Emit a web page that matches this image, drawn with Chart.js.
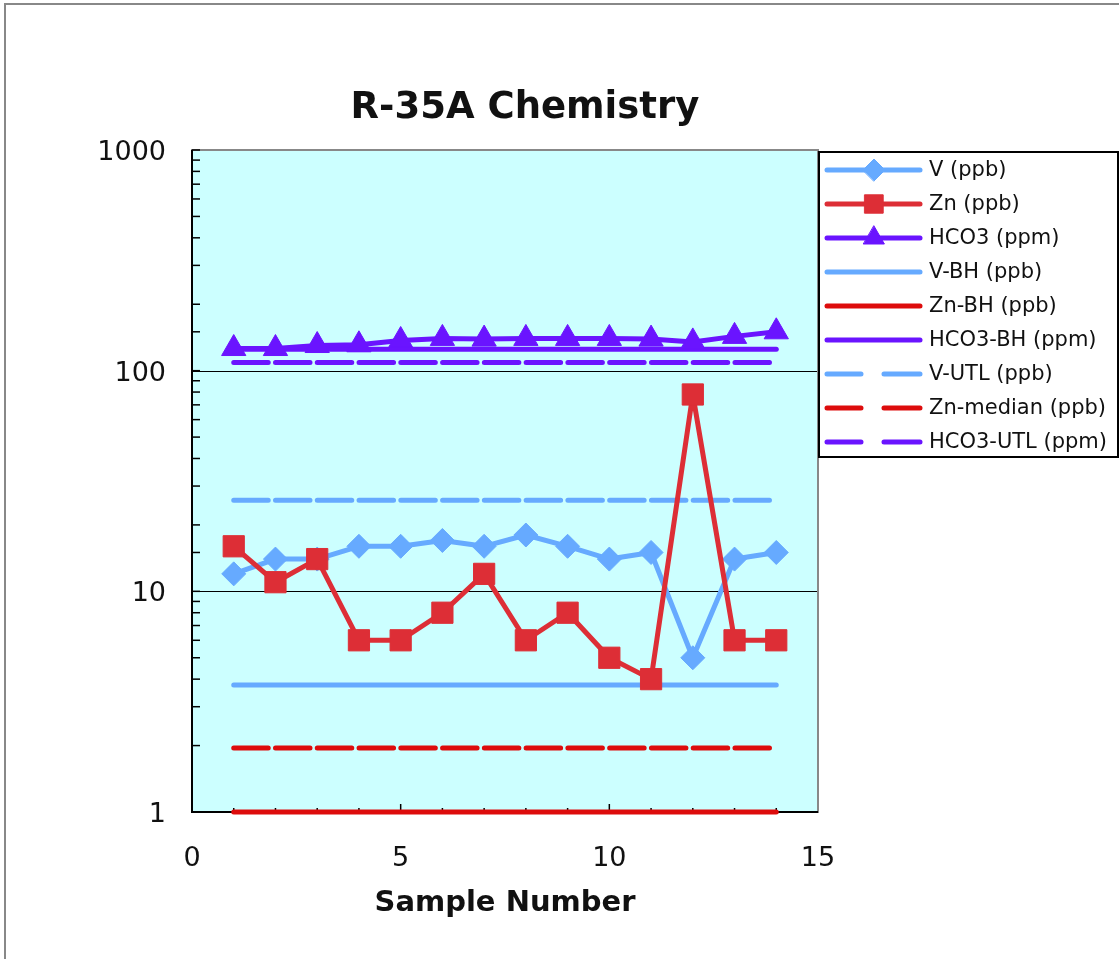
<!DOCTYPE html>
<html lang="en">
<head>
    <meta charset="UTF-8">
    <title>R-35A Chemistry</title>
    <script src="https://cdn.jsdelivr.net/npm/chart.js"></script>
    <style>
        html, body { margin: 0; padding: 0; background: #fff; }
        canvas { display: block; }
    </style>
</head>
<body>
    <canvas id="chemChart" width="1119" height="959"></canvas>
    <script>
        // values
        var samples = [1, 2, 3, 4, 5, 6, 7, 8, 9, 10, 11, 12, 13, 14];
        var vPpb = [12, 14, 14, 16, 16, 17, 16, 18, 16, 14, 15, 5, 14, 15];
        var znPpb = [16, 11, 14, 6, 6, 8, 12, 6, 8, 5, 4, 78, 6, 6];
        var hco3Ppm = [126, 126, 130, 131, 137, 140, 139, 140, 140, 140, 139, 135, 143, 150];

        // background / limit lines (constant for all samples)
        var vBH = 3.76;
        var znBH = 1;
        var hco3BH = 125;
        var vUTL = 25.9;
        var znMedian = 1.95;
        var hco3UTL = 109;

        var yTickLabels = [1, 10, 100, 1000];
        var xTickLabels = [0, 5, 10, 15];

        var blue = '#66aaff';
        var red = '#dd2e36';
        var darkRed = '#dd0c0c';
        var purple = '#6a14ff';
        var fontFamily = '"DejaVu Sans", Verdana, sans-serif';

        Chart.defaults.font.family = fontFamily;
        Chart.defaults.color = '#111';

        function pts(values) {
            return samples.map(function (x, i) { return { x: x, y: values[i] }; });
        }

        function flat(value) {
            return samples.map(function (x) { return { x: x, y: value }; });
        }

        function series(label, values, color, style, radius, order) {
            return {
                label: label, data: pts(values), order: order,
                borderColor: color, backgroundColor: color, borderWidth: 5,
                borderJoinStyle: 'round', borderCapStyle: 'round', borderDash: [],
                pointStyle: style, pointRadius: radius, pointBorderWidth: 1,
                pointBackgroundColor: color, pointBorderColor: color,
                tension: 0, fill: false, clip: false
            };
        }

        function refLine(label, value, color, dashed, order) {
            return {
                label: label, data: flat(value), order: order,
                borderColor: color, borderWidth: 5, borderCapStyle: 'round',
                borderDash: dashed ? [34.5, 7.27] : [], pointRadius: 0,
                tension: 0, fill: false, clip: false
            };
        }

        var datasets = [
            series('V (ppb)', vPpb, blue, 'rectRot', 12, 1),
            series('Zn (ppb)', znPpb, red, 'rect', 15, 0),
            series('HCO3 (ppm)', hco3Ppm, purple, 'triangle', 14, 2),
            refLine('V-BH (ppb)', vBH, blue, false, 3),
            refLine('Zn-BH (ppb)', znBH, darkRed, false, 3),
            refLine('HCO3-BH (ppm)', hco3BH, purple, false, 3),
            refLine('V-UTL (ppb)', vUTL, blue, true, 3),
            refLine('Zn-median (ppb)', znMedian, darkRed, true, 3),
            refLine('HCO3-UTL (ppm)', hco3UTL, purple, true, 3)
        ];

        var legendMarks = [
            { style: 'rectRot', radius: 11 },
            { style: 'rect', radius: 13 },
            { style: 'triangle', radius: 12 },
            null, null, null, null, null, null
        ];

        // plot background, frame, grid and tick marks
        var framePlugin = {
            id: 'framePlugin',
            beforeDatasetsDraw: function (chart) {
                var ctx = chart.ctx, a = chart.chartArea;
                var xs = chart.scales.x, ys = chart.scales.y;
                ctx.save();
                ctx.fillStyle = '#ccffff';
                ctx.fillRect(a.left, a.top, a.right - a.left, a.bottom - a.top);

                ctx.strokeStyle = '#000';
                ctx.lineWidth = 1;
                [10, 100].forEach(function (v) {
                    var y = Math.round(ys.getPixelForValue(v)) + 0.5;
                    ctx.beginPath(); ctx.moveTo(a.left, y); ctx.lineTo(a.right, y); ctx.stroke();
                });

                ctx.strokeStyle = '#888';
                ctx.lineWidth = 2;
                ctx.strokeRect(a.left, a.top, a.right - a.left, a.bottom - a.top);

                ctx.strokeStyle = '#000';
                ctx.beginPath();
                ctx.moveTo(a.left, a.top); ctx.lineTo(a.left, a.bottom); ctx.lineTo(a.right, a.bottom);
                ctx.stroke();

                ctx.lineWidth = 1.5;
                ys.ticks.forEach(function (t) {
                    var y = ys.getPixelForValue(t.value);
                    ctx.beginPath(); ctx.moveTo(a.left, y); ctx.lineTo(a.left + 8, y); ctx.stroke();
                });
                for (var i = 1; i < 15; i++) {
                    var x = xs.getPixelForValue(i);
                    var len = i % 5 === 0 ? 8 : 4;
                    ctx.beginPath(); ctx.moveTo(x, a.bottom); ctx.lineTo(x, a.bottom - len); ctx.stroke();
                }
                ctx.restore();
            },
            beforeDraw: function (chart) {
                var ctx = chart.ctx;
                ctx.save();
                ctx.fillStyle = '#fff';
                ctx.fillRect(0, 0, chart.width, chart.height);
                ctx.strokeStyle = '#888';
                ctx.lineWidth = 2;
                ctx.strokeRect(5, 4, chart.width + 20, chart.height + 20);
                ctx.restore();
            },
            afterDraw: function (chart) {
                var ctx = chart.ctx;
                ctx.save();
                ctx.fillStyle = '#111';
                ctx.font = 'bold 37px ' + fontFamily;
                ctx.textAlign = 'center';
                ctx.textBaseline = 'middle';
                ctx.fillText('R-35A Chemistry', 525, 108);

                // legend box
                ctx.fillStyle = '#fff';
                ctx.fillRect(819, 152, 299, 305);
                ctx.strokeStyle = '#000';
                ctx.lineWidth = 2;
                ctx.strokeRect(819, 152, 299, 305);

                ctx.font = '21px ' + fontFamily;
                ctx.textAlign = 'left';
                datasets.forEach(function (ds, i) {
                    var y = 170 + i * 34;
                    ctx.strokeStyle = ds.borderColor;
                    ctx.lineWidth = 5;
                    ctx.lineCap = 'round';
                    ctx.setLineDash([]);
                    ctx.beginPath();
                    if (ds.borderDash.length) {
                        ctx.moveTo(827, y); ctx.lineTo(861, y);
                        ctx.moveTo(884, y); ctx.lineTo(920, y);
                    } else {
                        ctx.moveTo(827, y); ctx.lineTo(920, y);
                    }
                    ctx.stroke();
                    var m = legendMarks[i];
                    if (m) {
                        ctx.fillStyle = ds.borderColor;
                        ctx.lineWidth = 1;
                        Chart.helpers.drawPoint(ctx, { pointStyle: m.style, radius: m.radius, rotation: 0, borderWidth: 1 }, 874, y);
                    }
                    ctx.fillStyle = '#111';
                    ctx.fillText(ds.label, 929, y + 1);
                });
                ctx.restore();
            }
        };

        var ctx = document.getElementById('chemChart').getContext('2d');
        new Chart(ctx, {
            type: 'line',
            data: { datasets: datasets },
            plugins: [framePlugin],
            options: {
                responsive: false,
                animation: false,
                layout: { padding: { left: 0, right: 301, top: 150, bottom: 0 } },
                plugins: {
                    legend: { display: false },
                    title: { display: false },
                    tooltip: { enabled: false }
                },
                scales: {
                    x: {
                        type: 'linear', min: 0, max: 15,
                        grid: { display: false, drawTicks: false },
                        border: { display: false },
                        afterBuildTicks: function (scale) {
                            scale.ticks = xTickLabels.map(function (v) { return { value: v }; });
                        },
                        ticks: { font: { size: 27 }, padding: 31, maxRotation: 0, autoSkip: false },
                        title: {
                            display: true, text: 'Sample Number',
                            font: { size: 29, weight: 'bold' },
                            padding: { top: 0, bottom: 38 }
                        },
                        afterFit: function (scale) { scale.height = 147; }
                    },
                    y: {
                        type: 'logarithmic', min: 1, max: 1000,
                        grid: { display: false, drawTicks: false },
                        border: { display: false },
                        ticks: {
                            font: { size: 27 }, padding: 26, autoSkip: false, labelOffset: 3,
                            callback: function (v) {
                                return yTickLabels.indexOf(v) >= 0 ? String(v) : '';
                            }
                        },
                        afterFit: function (scale) { scale.width = 192; }
                    }
                }
            }
        });
    </script>
</body>
</html>
